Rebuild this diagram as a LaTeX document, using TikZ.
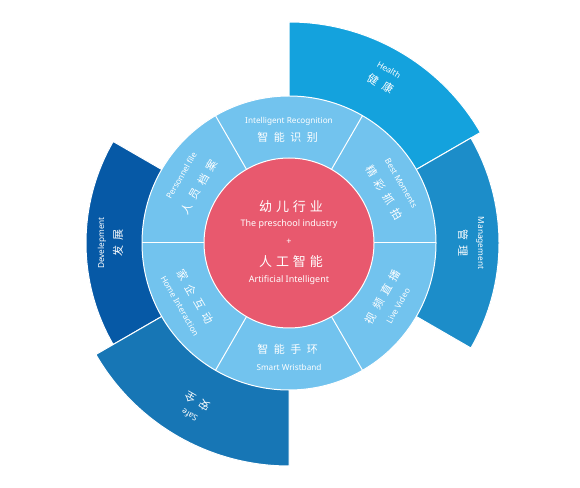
\documentclass[tikz,border=0pt]{standalone}
\usepackage{fontspec}
\setmainfont{Noto Sans}
\newfontfamily\cjkring[LetterSpace=50]{Noto Sans CJK SC}
\newfontfamily\cjkcore[LetterSpace=30]{Noto Sans CJK SC}
\definecolor{corered}{HTML}{E8596E}
\definecolor{ringblue}{HTML}{72C3EE}
\definecolor{healthblue}{HTML}{14A2DD}
\definecolor{mgmtblue}{HTML}{1C8DC9}
\definecolor{devblue}{HTML}{0659A6}
\definecolor{safeblue}{HTML}{1776B5}
\newcommand\annsector[5]{%
  \filldraw[fill=#1, draw=white, line width=1pt]
    (#2:#4pt) arc[start angle=#2, end angle=#3, radius=#4pt]
    -- (#3:#5pt) arc[start angle=#3, end angle=#2, radius=#5pt] -- cycle;}
\begin{document}
\begin{tikzpicture}[x=1pt,y=1pt,
  entxt/.style={text=white, inner sep=0pt, font=\fontsize{8.2pt}{9pt}\selectfont},
  cntxt/.style={text=white, inner sep=0pt, font=\cjkring\fontsize{11pt}{12pt}\selectfont},
  enouter/.style={text=white, inner sep=0pt, font=\fontsize{8.3pt}{9pt}\selectfont},
  cnouter/.style={text=white, inner sep=0pt, font=\cjkring\fontsize{11pt}{12pt}\selectfont},
  encenter/.style={text=white, inner sep=0pt, font=\fontsize{9pt}{10pt}\selectfont},
  cncenter/.style={text=white, inner sep=0pt, font=\cjkcore\fontsize{13pt}{14pt}\selectfont}]
\useasboundingbox (0,0) rectangle (580,487);
\begin{scope}[shift={(289,244)}]
  % outer segments
  \annsector{healthblue}{30}{90}{140}{221}
  \annsector{mgmtblue}{-30}{30}{140}{210}
  \annsector{devblue}{150}{210}{140}{203}
  \annsector{safeblue}{210}{270}{140}{223}
  % middle ring
  \filldraw[fill=ringblue, draw=white, line width=1pt] (0,0) circle[radius=147pt];
  \foreach \a in {0,60,...,300}
    \draw[white, line width=1pt] (\a:84pt) -- (\a:147pt);
  % core
  \filldraw[fill=corered, draw=white, line width=1pt] (0,0) circle[radius=85pt];

  % core texts
  \node[cncenter] (c1) at (2,36) {幼儿行业};
  \node[encenter] (c2) at (0,19) {The preschool industry};
  \node[encenter] (c3) at (0,1) {+};
  \node[cncenter] (c4) at (2,-19) {人工智能};
  \node[encenter] (c5) at (0,-37) {Artificial Intelligent};

  % ring texts
  \node[entxt] (r1e) at (90:122pt) {Intelligent Recognition};
  \node[cntxt] (r1c) at (90.8:106pt) {智能识别};
  \node[entxt, rotate=-60] (r2e) at (28:127pt) {Best Moments};
  \node[cntxt, rotate=-60] (r2c) at (28:108pt) {精彩抓拍};
  \node[entxt, rotate=60] (r3e) at (330:126pt) {Live Video};
  \node[cntxt, rotate=60] (r3c) at (330:108pt) {视频直播};
  \node[entxt] (r4e) at (270:124pt) {Smart Wristband};
  \node[cntxt] (r4c) at (269.2:106pt) {智能手环};
  \node[entxt, rotate=-60] (r5e) at (210:126pt) {Home Interaction};
  \node[cntxt, rotate=-60] (r5c) at (210:108pt) {家企互动};
  \node[entxt, rotate=60] (r6e) at (148:127pt) {Personnel file};
  \node[cntxt, rotate=60] (r6c) at (148:106pt) {人员档案};

  % outer texts
  \node[enouter, rotate=-30] (o1e) at (60:200pt) {Health};
  \node[cnouter, rotate=-30] (o1c) at (60:184pt) {健康};
  \node[enouter, rotate=-90] (o2e) at (0:191pt) {Management};
  \node[cnouter, rotate=-90] (o2c) at (0:174pt) {管理};
  \node[enouter, rotate=90] (o3e) at (180:187pt) {Develepment};
  \node[cnouter, rotate=90] (o3c) at (180:171pt) {发展};
  \node[enouter, rotate=150] (o4e) at (240:199pt) {Safe};
  \node[cnouter, rotate=150] (o4c) at (240:183pt) {安全};
\end{scope}
\end{tikzpicture}
\end{document}
